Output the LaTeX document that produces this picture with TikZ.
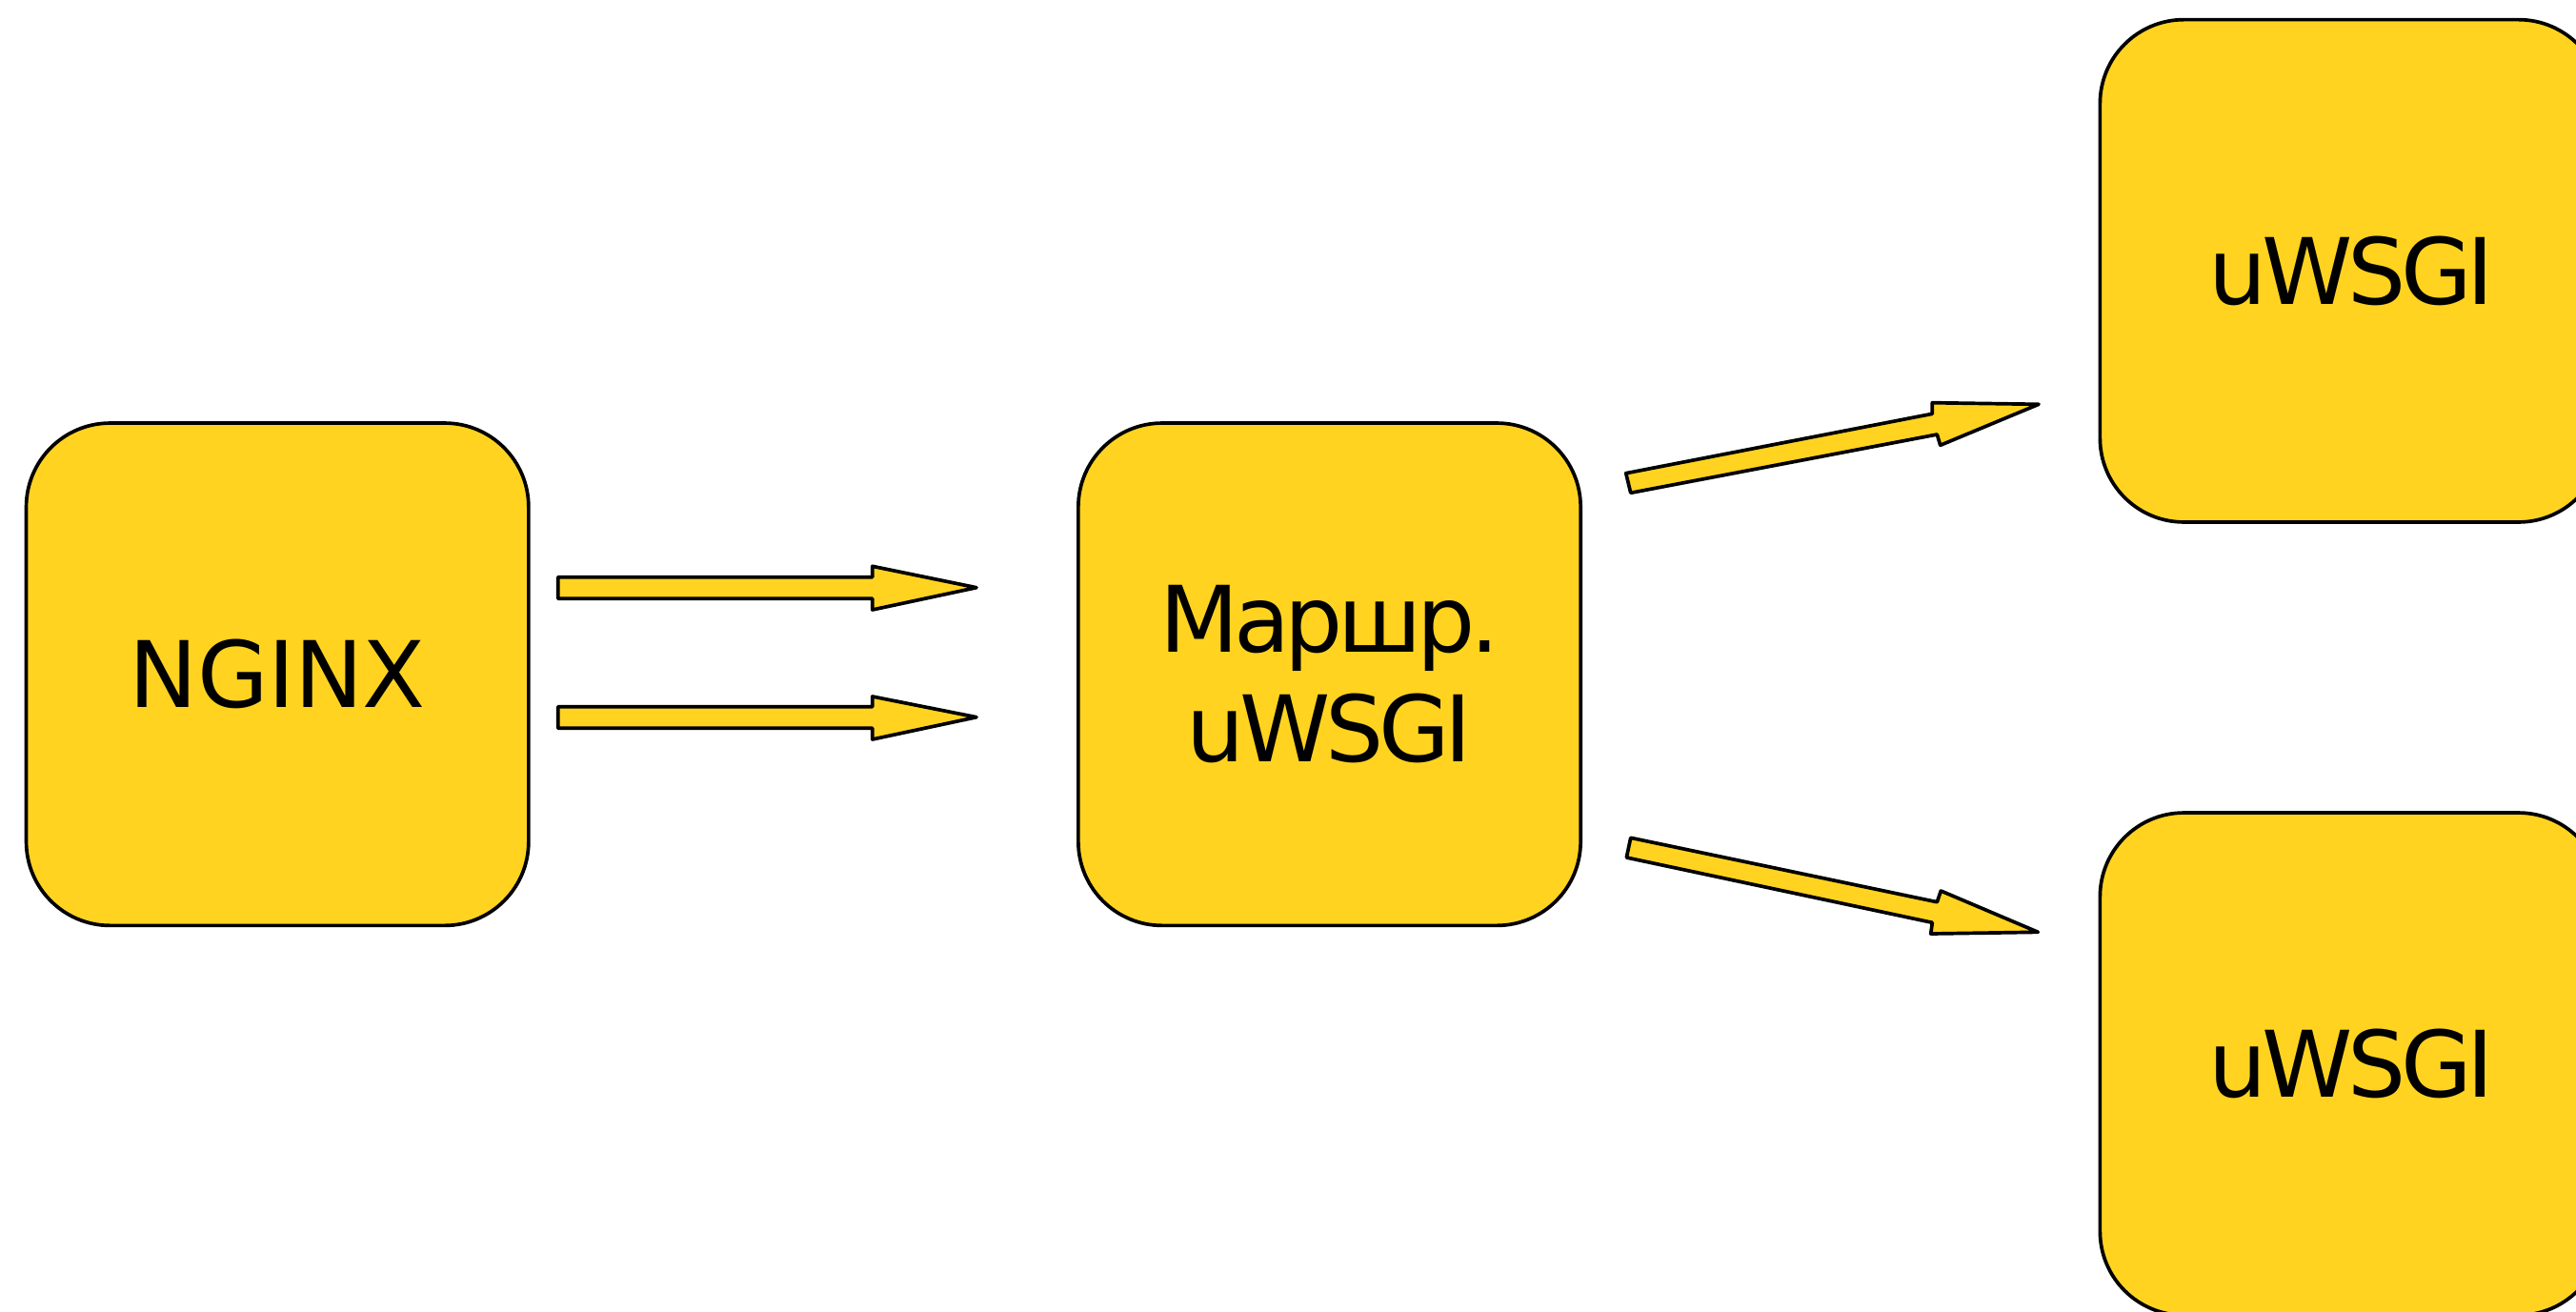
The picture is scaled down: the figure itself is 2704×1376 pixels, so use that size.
\documentclass[tikz,border=0pt]{standalone}
\usepackage{fontspec}
\setmainfont{DejaVu Sans}[LetterSpace=-5.5]
\newfontfamily\nginxfont{DejaVu Sans}[LetterSpace=-0.5]
\definecolor{boxyellow}{HTML}{FFD320}
\begin{document}
\begin{tikzpicture}[x=0.01cm,y=-0.01cm,
  box/.style={draw=black, fill=boxyellow, line width=1.05pt, rounded corners=0.88cm,
    minimum width=5.27cm, minimum height=5.27cm, inner sep=0pt, align=center,
    font=\fontsize{27.4}{32.9}\selectfont},
  blockarrow/.style={draw=black, fill=boxyellow, line width=1.05pt, line join=round}]
\useasboundingbox (0,0) rectangle (2704,1376);
\fill[white] (0,0) rectangle (2704,1376);
\begin{scope}
\clip (0,0) rectangle (2704,1376);
\node[box] (nginx) at (291.2,707.7) {\nginxfont NGINX};
\node[box] (router) at (1395.5,707.7) {Маршр.\\uWSGI};
\node[box] (w1) at (2468,284.3) {uWSGI};
\node[box] (w2) at (2468,1116.7) {uWSGI};
\end{scope}
% arrows NGINX -> router
\draw[blockarrow] (585.7,605.7) -- (915.7,605.7) -- (915.7,594.3) -- (1025,616.7)
  -- (915.7,640) -- (915.7,628.3) -- (585.7,628.3) -- cycle;
\draw[blockarrow] (585.7,741.7) -- (915.7,741.7) -- (915.7,731) -- (1025,752.7)
  -- (915.7,776) -- (915.7,764.3) -- (585.7,764.3) -- cycle;
% arrows router -> workers
\draw[blockarrow] (1706.7,496.7) -- (2028.3,434.3) -- (2028.3,422.7) -- (2140,424.3)
  -- (2036.7,467.3) -- (2033.3,456) -- (1711.7,517.3) -- cycle;
\draw[blockarrow] (1711.7,879.3) -- (2033.3,946.7) -- (2037.3,935) -- (2139.3,978.3)
  -- (2026.7,980) -- (2028.3,968.3) -- (1707.3,900) -- cycle;
\end{tikzpicture}
\end{document}
